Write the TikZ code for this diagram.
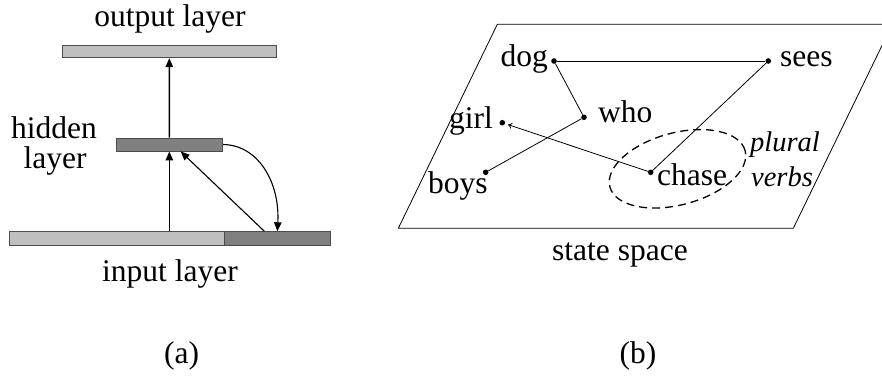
\documentclass[tikz,border=0pt]{standalone}
\usepackage{fontspec}
\setmainfont{Liberation Serif}
\usetikzlibrary{arrows.meta}
\begin{document}
\begin{tikzpicture}[x=1pt,y=1pt,
  txt/.style={font=\fontsize{31.5}{36}\selectfont, inner sep=0pt},
  itxt/.style={font=\fontsize{28.5}{34}\selectfont\itshape, inner sep=0pt},
  barlight/.style={draw=black!70, fill=black!25, line width=0.9pt, inner sep=0pt, rectangle},
  bardark/.style={draw=black!70, fill=black!50, line width=0.9pt, inner sep=0pt, rectangle},
  arr/.style={line width=1.5pt, -{Triangle[length=9pt,width=7.5pt]}},
  thinarr/.style={line width=1.1pt, -{Triangle[length=9pt,width=7.5pt]}},
  dotnode/.style={circle, fill=black, inner sep=0pt, minimum size=5.6pt},
  link/.style={line width=0.8pt},
]
\useasboundingbox (0,0) rectangle (882,-376);
\clip (0,0) rectangle (882,-376);

% ---------- (a) ----------
\node[barlight, minimum width=213.3pt, minimum height=12.7pt] (out) at (169.3,-51.35) {};
\node[bardark, minimum width=106.7pt, minimum height=13pt] (hid) at (169.35,-144.5) {};
\node[barlight, minimum width=214.7pt, minimum height=13.3pt] (inL) at (116.65,-238.35) {};
\node[bardark, minimum width=106.7pt, minimum height=13.3pt] (inR) at (277.35,-238.35) {};

\coordinate (vin) at (hid.south |- inL.north);
\coordinate (d0) at ([xshift=-13pt]inR.north);
\coordinate (d1) at ([xshift=11.3pt]hid.south);

\draw[arr] (vin) -- (hid.south);
\draw[arr] (hid.north) -- (out.south);
\draw[thinarr] (d0) -- (d1);
\draw[thinarr] (hid.east) .. controls (258,-145) and (280,-182) .. (inR.north);

\node[txt, anchor=base] (tout) at (170,-26) {output layer};
\node[txt, anchor=base] (thid1) at (54,-138.3) {hidden};
\node[txt, anchor=base] (thid2) at (55,-168.3) {layer};
\node[txt, anchor=base] (tin) at (170,-281.7) {input layer};
\node[txt, anchor=base] (ta) at (181.7,-363) {(a)};

% ---------- (b) ----------
\draw[link] (497.3,-24.3) -- (892.3,-24.3) -- (793.3,-228.3) -- (398.3,-228.3) -- cycle;

\node[dotnode] (dog) at (554,-61) {};
\node[dotnode] (sees) at (768.3,-61) {};
\node[dotnode] (who) at (584,-117.3) {};
\node[dotnode] (girl) at (502.3,-122.7) {};
\node[dotnode] (boys) at (485.7,-172.3) {};
\node[dotnode] (chase) at (650.7,-172.3) {};

\draw[link] (dog) -- (sees);
\draw[link] (dog) -- (who);
\draw[link] (who) -- (boys);
\draw[link] (chase) -- (sees);
\draw[link, -{To[length=4pt,width=6pt]}, shorten >=3pt] (chase) -- (girl);

\draw[line width=1.3pt, dash pattern=on 8pt off 5pt, rotate around={15:(677.5,-168.8)}]
  (677.5,-168.8) ellipse [x radius=70, y radius=36];

\node[txt, anchor=base east] (tdog) at (548,-66.7) {dog};
\node[txt, anchor=base west] (tsees) at (780,-66.7) {sees};
\node[txt, anchor=base west] (twho) at (598,-122.7) {who};
\node[txt, anchor=base east] (tgirl) at (493,-128.3) {girl};
\node[txt, anchor=base west] (tboys) at (428,-193.3) {boys};
\node[txt, anchor=base west] (tchase) at (657,-185) {chase};
\node[itxt, anchor=base] (tplural) at (785,-151.7) {plural};
\node[itxt, anchor=base] (tverbs) at (782,-186) {verbs};
\node[txt, anchor=base] (tstate) at (620,-260) {state space};
\node[txt, anchor=base] (tb) at (638,-363) {(b)};
\end{tikzpicture}
\end{document}
